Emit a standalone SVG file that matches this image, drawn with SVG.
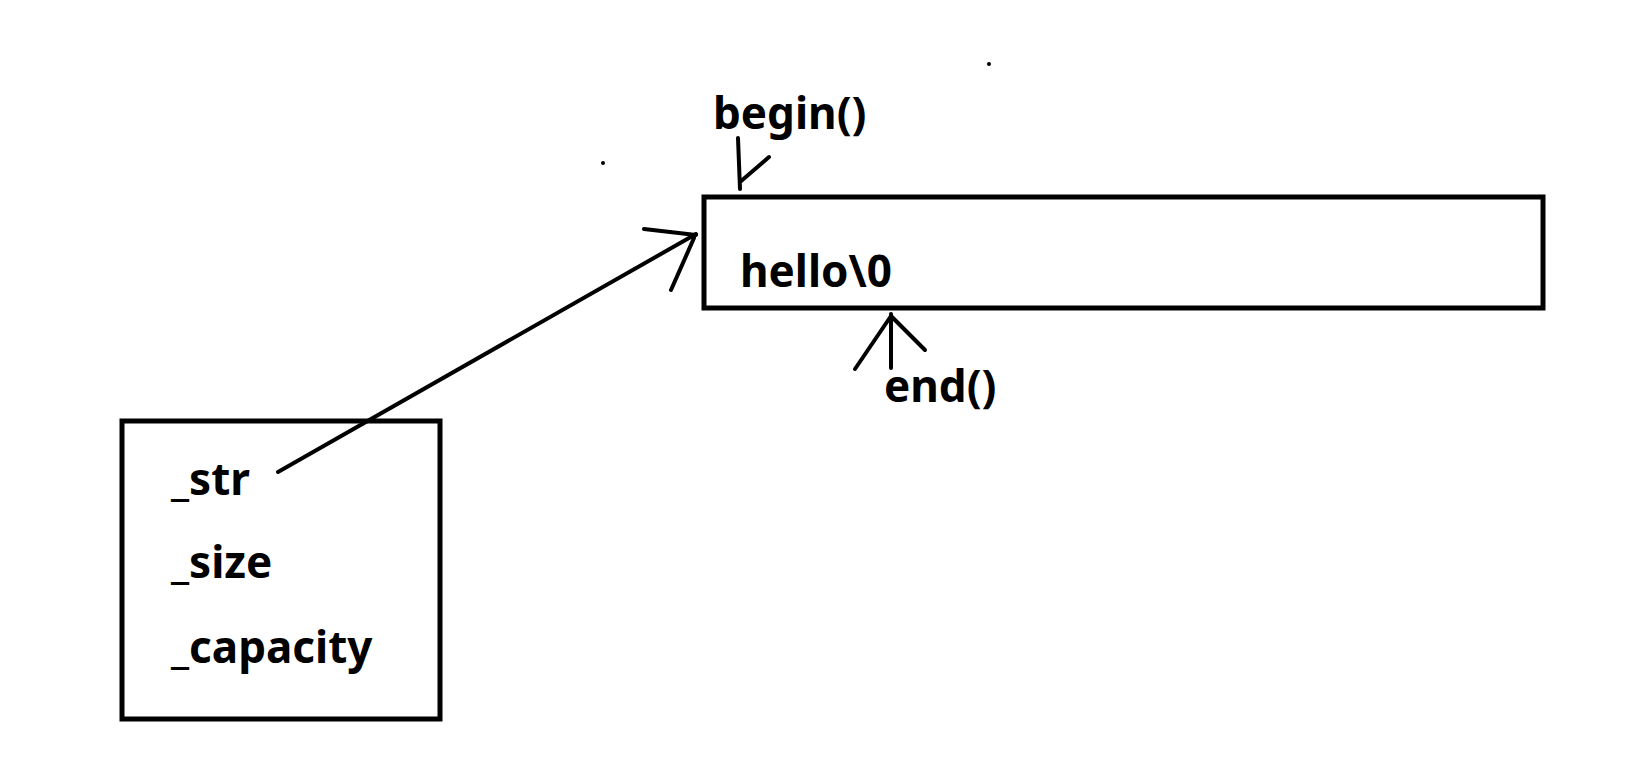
<svg xmlns="http://www.w3.org/2000/svg" width="1625" height="777" viewBox="0 0 1625 777">
<style>
.b{fill:none;stroke:#000;stroke-width:5}
.l{fill:none;stroke:#000;stroke-width:4;stroke-linecap:round}
text{font-family:"Noto Sans","DejaVu Sans",sans-serif;font-weight:bold;font-size:44px;fill:#000}
</style>
<rect width="1625" height="777" fill="#fff"/>
<g id="buffer"><rect class="b" x="704" y="197" width="839" height="111"/><text x="740" y="287">hello\0</text></g>
<g id="object"><rect class="b" x="122" y="421" width="318" height="298"/>
<text x="171" y="495">_str</text><text x="171" y="578">_size</text><text x="171" y="663">_capacity</text></g>
<g id="begin"><text x="713" y="129">begin()</text></g>
<g id="end"><text x="884" y="402">end()</text></g>
<g id="connectors">
<path class="l" d="M278 472L696 234M644 229L696 235M671 290L694 238"/>
<path class="l" d="M738 138L740 189M769 157L740 182"/>
<path class="l" d="M891 368L891 314M855 369L891 316M925 350L891 316"/>
</g>
<circle cx="989" cy="64" r="2"/><circle cx="603" cy="163" r="2"/>
</svg>
